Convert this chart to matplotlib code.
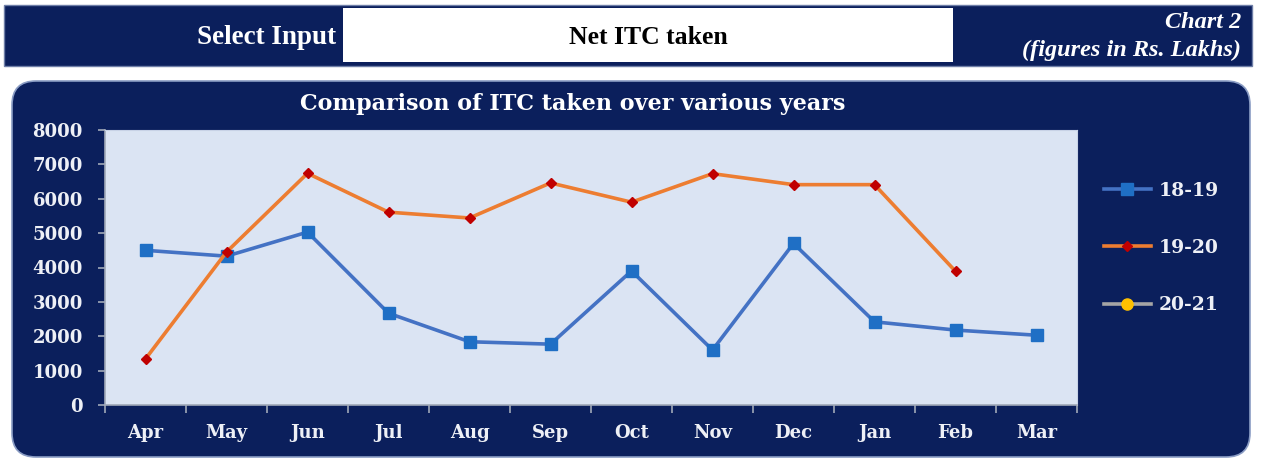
"""Comparison of ITC taken over various years (Chart 2)."""

import matplotlib

matplotlib.use("Agg")

import matplotlib.pyplot as plt
from matplotlib.patches import FancyBboxPatch, Rectangle
import numpy as np

W, H = 1268, 462

months = ["Apr", "May", "Jun", "Jul", "Aug", "Sep", "Oct", "Nov", "Dec", "Jan", "Feb", "Mar"]
itc_18_19 = [4500, 4330, 5030, 2670, 1840, 1770, 3900, 1600, 4700, 2420, 2180, 2030]
itc_19_20 = [1340, 4450, 6740, 5610, 5440, 6460, 5900, 6730, 6410, 6410, 3890]
itc_20_21 = []
series_labels = ["18-19", "19-20", "20-21"]
y_ticks = [0, 1000, 2000, 3000, 4000, 5000, 6000, 7000, 8000]

NAVY = "#0b1f5c"
PLOT_BG = "#dbe4f3"
TEXT = "#eef0f6"
SERIF = "DejaVu Serif"
BANNER_FONT = "Liberation Serif"

fig = plt.figure(figsize=(W / 100, H / 100), dpi=100)
fig.patch.set_facecolor("white")

# background layer in pixel coordinates (y grows downwards)
bg = fig.add_axes([0, 0, 1, 1], zorder=-1)
bg.set_xlim(0, W)
bg.set_ylim(H, 0)
bg.axis("off")

# top banner
bg.add_patch(Rectangle((4, 5), 1248, 61, facecolor=NAVY, edgecolor="#6f7fa8", lw=1))
bg.add_patch(Rectangle((343, 8), 610, 54, facecolor="white", edgecolor="none"))
bg.text(336, 37, "Select Input", ha="right", va="center", color="white",
        family=BANNER_FONT, fontweight="bold", fontsize=19.5)
bg.text(648, 37, "Net ITC taken", ha="center", va="center", color="black",
        family=BANNER_FONT, fontweight="bold", fontsize=18.5)
bg.text(1241, 22, "Chart 2", ha="right", va="center", color="white",
        family=BANNER_FONT, fontweight="bold", style="italic", fontsize=17.5)
bg.text(1241, 50, "(figures in Rs. Lakhs)", ha="right", va="center", color="white",
        family=BANNER_FONT, fontweight="bold", style="italic", fontsize=17.5)

# rounded chart panel
bg.add_patch(FancyBboxPatch((12, 81), 1238, 376, boxstyle="round,pad=0,rounding_size=24",
                            facecolor=NAVY, edgecolor="#8a9cc4", lw=1.2))
bg.text(573, 104, "Comparison of ITC taken over various years", ha="center", va="center",
        color="white", family=SERIF, fontweight="bold", fontsize=16)

ax = fig.add_axes([105 / W, 1 - 405 / H, 972 / W, 275 / H])
ax.set_facecolor(PLOT_BG)

x = np.arange(len(months))
ax.plot(x, itc_18_19, color="#4472c4", lw=2.6, marker="s", ms=8,
        mfc="#1f6fc5", mec="#1f6fc5", label=series_labels[0])
ax.plot(x[:len(itc_19_20)], itc_19_20, color="#ed7d31", lw=2.6, marker="D", ms=5.5,
        mfc="#c00000", mec="#c00000", label=series_labels[1])
ax.plot(x[:len(itc_20_21)], itc_20_21, color="#a5a5a5", lw=2.6, marker="o", ms=8,
        mfc="#ffc000", mec="#ffc000", label=series_labels[2])

ax.set_xlim(-0.5, len(months) - 0.5)
ax.set_ylim(0, 8000)
ax.set_yticks(y_ticks)
ax.set_xticks(x)
ax.set_xticklabels(months)
ax.set_xticks(np.arange(-0.5, len(months)), minor=True)
ax.tick_params(axis="x", which="major", length=0, pad=14)
ax.tick_params(axis="x", which="minor", length=6, color="#a0a8b8", width=1.2)
ax.tick_params(axis="y", length=5, color="#a0a8b8", width=1.2, pad=11)
for lab in ax.get_xticklabels() + ax.get_yticklabels():
    lab.set_family(SERIF)
    lab.set_fontweight("bold")
    lab.set_fontsize(13)
    lab.set_color(TEXT)
for side in ["top", "right"]:
    ax.spines[side].set_color("#c8d2e6")
for side in ["left", "bottom"]:
    ax.spines[side].set_color("#a0a8b8")
    ax.spines[side].set_linewidth(1.2)

leg = ax.legend(loc="center left", bbox_to_anchor=((1087 - 105) / 972, 0.571),
                frameon=False, labelspacing=2.1, handlelength=2.5, handletextpad=0.4,
                prop={"family": SERIF, "weight": "bold", "size": 13.5})
for t in leg.get_texts():
    t.set_color(TEXT)

fig.savefig("out.png", dpi=100, facecolor=fig.get_facecolor())
